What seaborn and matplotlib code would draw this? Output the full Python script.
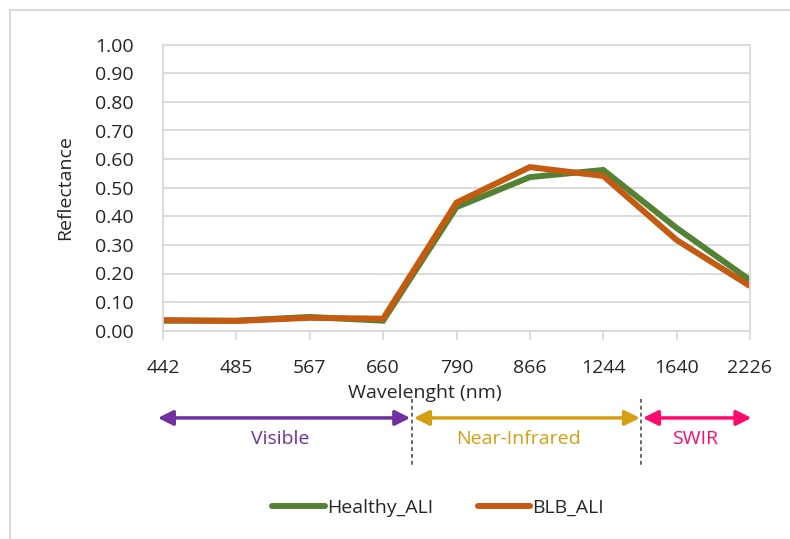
import matplotlib
matplotlib.use("Agg")
import matplotlib.pyplot as plt
import matplotlib.transforms as mtransforms
from matplotlib.lines import Line2D
import pandas as pd
import seaborn as sns

# wavelengths (nm) used as categories on the x axis
wavelengths = ["442", "485", "567", "660", "790", "866", "1244", "1640", "2226"]
healthy_ali = [0.035, 0.035, 0.048, 0.035, 0.432, 0.537, 0.562, 0.359, 0.177]
blb_ali = [0.037, 0.034, 0.045, 0.042, 0.448, 0.572, 0.541, 0.317, 0.156]
series_names = ["Healthy_ALI", "BLB_ALI"]
series_colors = ["#548235", "#C55A11"]

# spectral regions drawn under the axis
regions = ["Visible", "Near-Infrared", "SWIR"]
region_colors = ["#7030A0", "#D4A012", "#FF0A6C"]

df = pd.DataFrame({"Wavelength": wavelengths,
                   "Healthy_ALI": healthy_ali,
                   "BLB_ALI": blb_ali})
df_long = df.melt(id_vars="Wavelength", var_name="Serie", value_name="Reflectance")
df_long["pos"] = df_long["Wavelength"].map({w: i for i, w in enumerate(wavelengths)})

sns.set_style("white")
plt.rcParams["font.family"] = ["Open Sans", "DejaVu Sans"]
fs = 14

fig = plt.figure(figsize=(7.9, 5.39), dpi=100)
ax = fig.add_axes([163/790, 1-330.7/539, (750-163)/790, 286/539])

sns.lineplot(data=df_long, x="pos", y="Reflectance", hue="Serie",
             hue_order=series_names, palette=series_colors,
             linewidth=4.3, ax=ax, legend=False, sort=False)
for l in ax.lines:
    l.set_solid_joinstyle("miter")
    l.set_solid_capstyle("butt")

grid_c = "#D9D9D9"
ax.set_xlim(0, len(wavelengths) - 1)
ax.set_ylim(0, 1)
ax.set_yticks([i / 10 for i in range(11)])
ax.set_yticklabels([f"{i/10:.2f}" for i in range(11)])
ax.set_xticks(range(len(wavelengths)))
ax.set_xticklabels(wavelengths)
ax.yaxis.grid(True, color=grid_c, linewidth=1.3)
ax.xaxis.grid(False)
for s in ax.spines.values():
    s.set_color(grid_c)
    s.set_linewidth(1.3)
ax.tick_params(axis="y", length=0, pad=21, labelsize=fs, labelcolor="#262626")
ax.tick_params(axis="x", length=6.5, width=1.3, color=grid_c, direction="out",
               pad=14, labelsize=fs, labelcolor="#262626", bottom=True)

ax.set_ylabel("Reflectance", fontsize=fs, color="#262626")
ax.yaxis.set_label_coords(-0.167, 0.5)
ax.yaxis.label.set_va("center")
ax.set_xlabel("Wavelenght (nm)", fontsize=fs, color="#262626")
ax.xaxis.set_label_coords(0.446, -0.218)
ax.xaxis.label.set_va("center")

# region arrows below the axis (x in data units, y in axes fraction)
trans = mtransforms.blended_transform_factory(ax.transData, ax.transAxes)
bounds = [(-0.07, 3.37), (3.42, 6.50), (6.54, 8.02)]
text_x = [1.6, 4.85, 7.25]
for (x0, x1), name, c, tx in zip(bounds, regions, region_colors, text_x):
    ax.annotate("", xy=(x1, -0.305), xytext=(x0, -0.305), xycoords=trans,
                textcoords=trans, annotation_clip=False,
                arrowprops=dict(arrowstyle="<|-|>,head_length=0.9,head_width=0.45",
                                color=c, lw=2.5, shrinkA=0, shrinkB=0))
    ax.text(tx, -0.38, name, transform=trans, color=c, fontsize=fs,
            ha="center", va="center", clip_on=False)
for xd in [3.395, 6.52]:
    ax.plot([xd, xd], [-0.24, -0.475], transform=trans, color="#404040",
            linestyle=(0, (2.5, 2)), linewidth=1.1, clip_on=False)

handles = [Line2D([], [], color=c, linewidth=4.3, solid_capstyle="round")
           for c in series_colors]
fig.legend(handles, series_names, loc="center", bbox_to_anchor=(438/790, 1-508/539),
           ncol=2, frameon=False, fontsize=fs, handlelength=2.7,
           handletextpad=0.1, columnspacing=2.3, labelcolor="#262626")

# outer chart border (top and left edges visible)
fig.add_artist(Line2D([10/790, 10/790], [0, 1-10/539], transform=fig.transFigure,
                      color=grid_c, linewidth=1.5))
fig.add_artist(Line2D([10/790, 1], [1-10/539, 1-10/539], transform=fig.transFigure,
                      color=grid_c, linewidth=1.5))

fig.savefig("out.png", dpi=100)
